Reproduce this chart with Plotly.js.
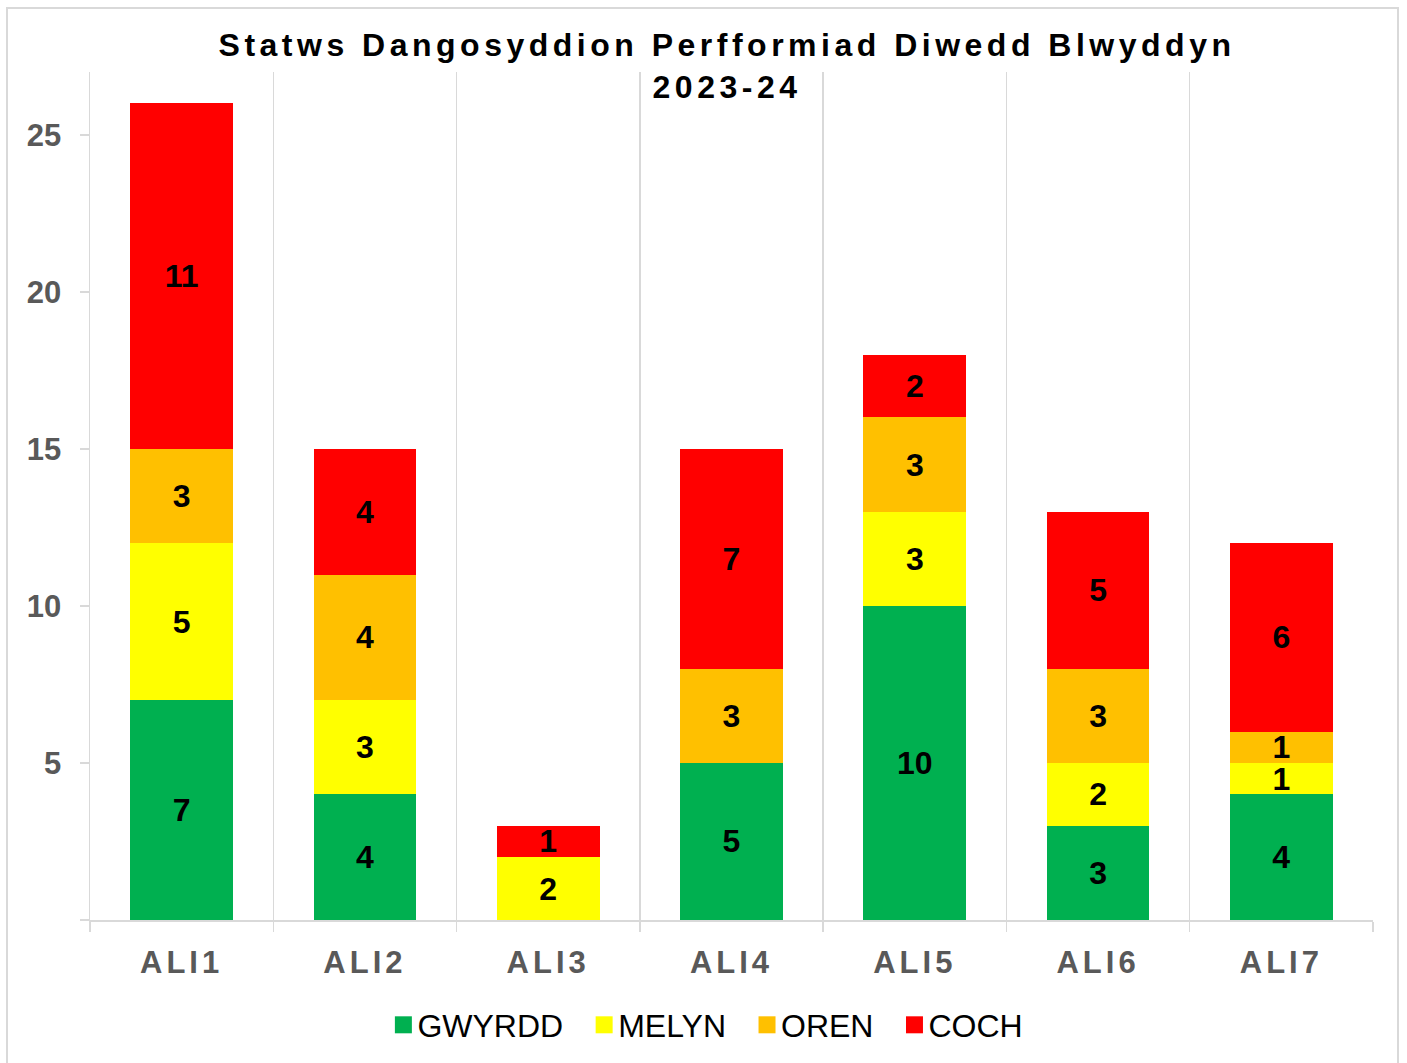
<!DOCTYPE html>
<html>
<head>
<meta charset="utf-8">
<script src="https://cdn.plot.ly/plotly-3.0.1.min.js"></script>
<style>
  html, body { margin: 0; padding: 0; background: #fff; overflow: hidden; }
  #wrap { position: relative; width: 1407px; height: 1063px; }
  #chart { position: absolute; left: 0; top: 0; width: 1407px; height: 1063px; }
  #frame { position: absolute; left: 6px; top: 7px; width: 1393px; height: 1070px;
           border: 2px solid #d9d9d9; pointer-events: none; box-sizing: border-box; }
  .gtitle { letter-spacing: 4.5px; }
  .xtick text { letter-spacing: 4px; }
</style>
</head>
<body>
<div id="wrap">
  <div id="chart"></div>
  <div id="frame"></div>
</div>
<script>
const categories = ["ALI1", "ALI2", "ALI3", "ALI4", "ALI5", "ALI6", "ALI7"];
const seriesNames = ["GWYRDD", "MELYN", "OREN", "COCH"];
const gwyrdd = [7, 4, 0, 5, 10, 3, 4];
const melyn  = [5, 3, 2, 0, 3, 2, 1];
const oren   = [3, 4, 0, 3, 3, 3, 1];
const coch   = [11, 4, 1, 7, 2, 5, 6];
const yTickVals = [0, 5, 10, 15, 20, 25];
const yTickText = ["", "5", "10", "15", "20", "25"];

const seriesValues = [gwyrdd, melyn, oren, coch];
const colors = ["#00b050", "#ffff00", "#ffc000", "#ff0000"];
const FONT = "'Liberation Sans', Arial, sans-serif";

const traces = seriesValues.map((vals, i) => ({
  type: "bar",
  name: seriesNames[i],
  x: categories,
  y: vals,
  text: vals.map(v => v > 0 ? String(v) : ""),
  textposition: "inside",
  insidetextanchor: "middle",
  textangle: 0,
  constraintext: "none",
  textfont: { family: FONT, size: 32, color: "#000000", weight: "bold" },
  marker: { color: colors[i], line: { width: 0 } },
  hoverinfo: "skip"
}));

const layout = {
  width: 1407,
  height: 1063,
  paper_bgcolor: "rgba(0,0,0,0)",
  plot_bgcolor: "#ffffff",
  barmode: "stack",
  bargap: 0.44,
  margin: { l: 90, r: 34, t: 72, b: 142 },
  font: { family: FONT },
  title: {
    text: "Statws Dangosyddion Perfformiad Diwedd Blwyddyn<br>2023-24",
    font: { family: FONT, size: 32, color: "#000000", weight: "bold" },
    x: 0.4965, xref: "paper", xanchor: "center",
    y: 0.947, yref: "container", yanchor: "top"
  },
  xaxis: {
    type: "category",
    range: [-0.5, 6.5],
    tickson: "boundaries",
    showgrid: true,
    gridcolor: "#d9d9d9",
    gridwidth: 1.5,
    showline: true,
    linecolor: "#d9d9d9",
    linewidth: 2,
    ticks: "outside",
    ticklen: 10,
    tickcolor: "#d9d9d9",
    tickwidth: 1.5,
    ticklabelstandoff: 14,
    tickfont: { family: FONT, size: 31, color: "#595959", weight: "bold" },
    fixedrange: true
  },
  yaxis: {
    range: [0, 27],
    tickvals: yTickVals,
    ticktext: yTickText,
    showgrid: false,
    zeroline: false,
    showline: true,
    linecolor: "#d9d9d9",
    linewidth: 1.5,
    ticks: "outside",
    ticklen: 9,
    tickcolor: "#d9d9d9",
    tickwidth: 1.5,
    ticklabelstandoff: 12,
    tickfont: { family: FONT, size: 31, color: "#595959", weight: "bold" },
    fixedrange: true
  },
  showlegend: true,
  legend: {
    orientation: "h",
    traceorder: "normal",
    x: 0.466, xref: "paper", xanchor: "center",
    y: -0.1225, yref: "paper", yanchor: "middle",
    bgcolor: "rgba(0,0,0,0)",
    font: { family: FONT, size: 32, color: "#000000" }
  }
};

Plotly.newPlot("chart", traces, layout, { staticPlot: true, displayModeBar: false }).then(gd => {
  // larger legend swatches placed closer to their labels
  gd.querySelectorAll(".legendpoints path").forEach(p => {
    p.setAttribute("d", "M14.5,8.5H-2.5V-8.5H14.5Z");
  });
  // slightly wider spacing between legend entries
  gd.querySelectorAll(".legend .traces").forEach((g, i) => {
    const t = g.getAttribute("transform") || "";
    const m = t.match(/translate\(\s*([-\d.]+)[ ,]+([-\d.]+)\s*\)/);
    if (m) {
      const x = parseFloat(m[1]) + i * 10;
      g.setAttribute("transform", "translate(" + x + "," + m[2] + ")");
    }
  });
  // let the widened legend show fully
  gd.querySelectorAll(".legend .scrollbox, .legend").forEach(el => el.removeAttribute("clip-path"));
});
</script>
</body>
</html>
